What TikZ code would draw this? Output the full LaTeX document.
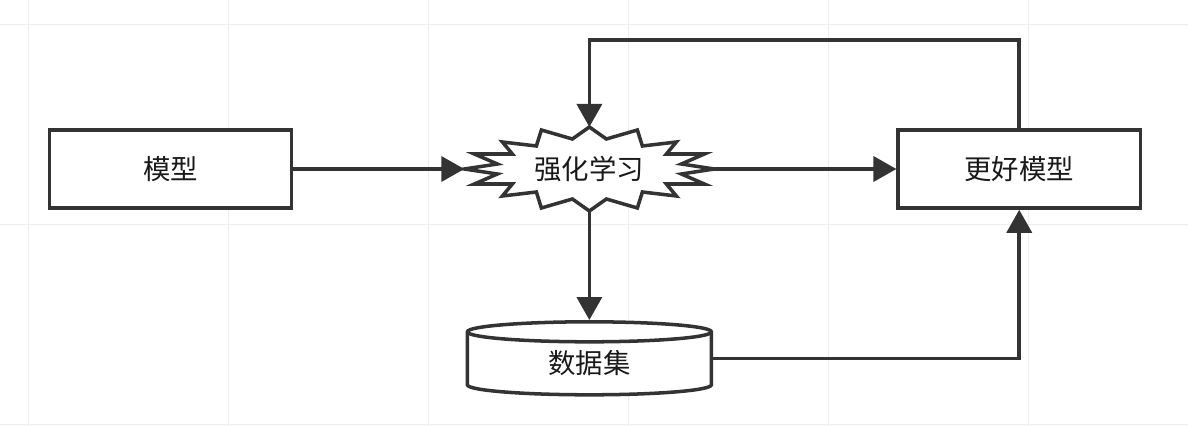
\documentclass[tikz,border=0pt]{standalone}
\usepackage{fontspec}
\usepackage{tikz}
\usepackage{xcolor}
\usetikzlibrary{positioning, arrows.meta, backgrounds}
\newfontfamily\cjk{Noto Sans CJK SC}
\definecolor{strokeclr}{HTML}{333333}
\definecolor{gridclr}{HTML}{EDEDED}
\tikzset{
  every node/.style={font=\cjk\fontsize{19.5}{23}\selectfont, text=black!90},
  box/.style={
    draw=strokeclr, line width=2.5pt, fill=white,
    minimum width=6.05cm, minimum height=1.95cm, inner sep=0pt
  },
  burst/.style={minimum width=6.25cm, minimum height=2.1cm, inner sep=0pt, outer sep=0pt},
  dbase/.style={
    minimum width=6.1cm, minimum height=1.825cm, inner sep=0pt,
    outer sep=0.044cm, text height=0.78cm, text depth=0pt
  },
  outline/.style={draw=strokeclr, line width=2.5pt},
  conn/.style={draw=strokeclr, line width=2.5pt, -{Triangle[length=0.575cm, width=0.625cm]}},
  grid line/.style={draw=gridclr, line width=0.7pt},
}

\begin{document}
\begin{tikzpicture}[x=0.025cm, y=0.025cm]

  \useasboundingbox (0,0) rectangle (1188,-426);

  \node[box] (model) at (170.5,-169) {模型};
  \node[burst, right=4.275cm of model] (rl)     {强化学习};
  \node[box,   right=4.55cm of rl]     (better) {更好模型};
  \node[dbase, below=2.725cm of rl]    (data)   {数据集};

  % 网格, 爆炸形, 数据库
  \begin{scope}[on background layer]
    \foreach \gx in {28,228,...,1028}
      \draw[grid line] (\gx,0) -- (\gx,-426);
    \foreach \gy in {24,224,424}
      \draw[grid line] (0,-\gy) -- (1188,-\gy);

    \draw[outline, fill=white, shift={(rl.center)}]
      (0,42) -- (17,30) -- (48,39) -- (53,23) -- (87,27) -- (77,15)
      -- (115,15) -- (92,5) -- (125,0) -- (92,-5) -- (115,-15) -- (77,-15)
      -- (87,-27) -- (53,-23) -- (48,-39) -- (17,-30) -- (0,-42)
      -- (-17,-30) -- (-48,-39) -- (-53,-23) -- (-87,-27) -- (-77,-15)
      -- (-115,-15) -- (-92,-5) -- (-125,0) -- (-92,5) -- (-115,15)
      -- (-77,15) -- (-87,27) -- (-53,23) -- (-48,39) -- (-17,30) -- cycle;

    \begin{scope}[shift={(data.center)}]
      \draw[outline, fill=white]
        (-122,26.5) -- (-122,-26.5)
        arc[start angle=180, end angle=360, x radius=122, y radius=10]
        -- (122,26.5)
        arc[start angle=0, end angle=180, x radius=122, y radius=10] -- cycle;
      \draw[outline] (-122,26.5)
        arc[start angle=180, end angle=360, x radius=122, y radius=10];
    \end{scope}
  \end{scope}

  % 连线
  \draw[conn] (model) -- (rl);
  \draw[conn] (rl) -- (better);
  \draw[conn] (rl) -- (data);
  \draw[conn] (data.east) -| (better.south);
  \draw[conn] (better.north) -- ++(0,88) -| (rl.north);

\end{tikzpicture}
\end{document}
